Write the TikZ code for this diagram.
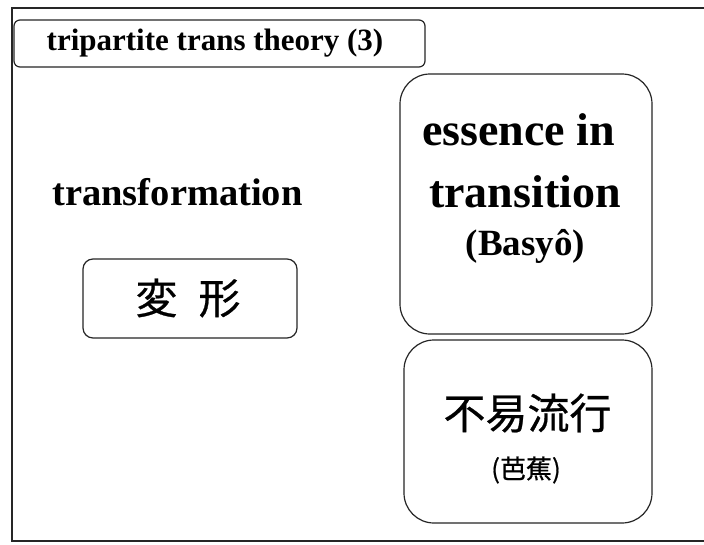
\documentclass[tikz,border=0pt]{standalone}
\usepackage{fontspec}
\setmainfont{Liberation Serif}
\newfontfamily\cjk[FakeBold=0.6]{Noto Sans CJK JP}
\begin{document}
\begin{tikzpicture}[x=1pt,y=-1pt,
  box/.style={draw=black!85,line width=1.2pt,rectangle,inner sep=0pt},
  lbl/.style={inner sep=0pt,font=\bfseries}]
\useasboundingbox (0,0) rectangle (704,544);
\fill[white] (0,0) rectangle (704,544);
% outer frame
\coordinate (ftr) at (705,8);
\coordinate (ftl) at (12,8);
\coordinate (fbl) at (12,541);
\coordinate (fbr) at (705,541);
\draw[line width=1.8pt,black!85] (ftr) -- (ftl) -- (fbl) -- (fbr);
% title
\node[box,rounded corners=6pt,minimum width=411pt,minimum height=47pt] (title) at (219.5,43.5) {};
\node[lbl,font=\bfseries\fontsize{31}{34}\selectfont] (titletxt) at (215,43) {tripartite trans theory (3)};
% transformation
\node[lbl,font=\bfseries\fontsize{38.5}{41}\selectfont] (trans) at (177.5,192) {transformation};
\node[box,rounded corners=10pt,minimum width=214pt,minimum height=79pt] (hen) at (190,298.5) {};
\node[inner sep=0pt,font=\cjk\fontsize{42}{44}\selectfont] (hentxt) at (188,298) {変\hspace{0.5em}形};
% essence
\node[box,rounded corners=30pt,minimum width=252pt,minimum height=260pt] (ess) at (526,204) {};
\node[lbl,font=\bfseries\fontsize{46}{48}\selectfont] (ess1) at (518.5,130) {essence in};
\node[lbl,font=\bfseries\fontsize{46}{48}\selectfont] (ess2) at (525,192) {transition};
\node[lbl,font=\bfseries\fontsize{37}{40}\selectfont] (ess3) at (525.5,246) {(Basyô)};
% fueki
\node[box,rounded corners=30pt,minimum width=248pt,minimum height=183pt] (fue) at (528,431.5) {};
\node[inner sep=0pt,font=\cjk\fontsize{42}{44}\selectfont] (fue1) at (527.5,413) {不易流行};
\node[inner sep=0pt,font=\cjk\fontsize{26}{28}\selectfont] (fue2) at (526,470) {(芭蕉)};
\end{tikzpicture}
\end{document}
